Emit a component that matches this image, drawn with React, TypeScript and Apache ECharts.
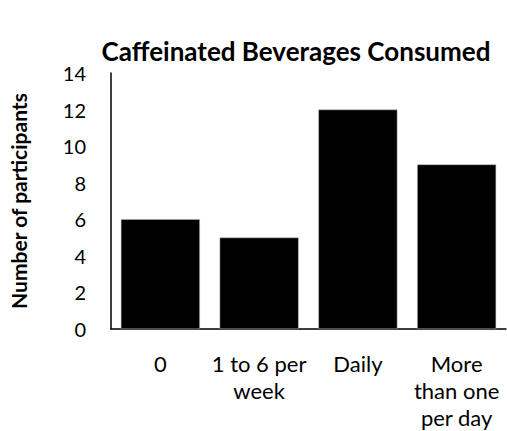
import React, { useEffect, useRef } from "react";
import * as echarts from "echarts";

const categories = ["0", "1 to 6 per week", "Daily", "More than one per day"];
const wrappedLabels = ["0", "1 to 6 per\nweek", "Daily", "More\nthan one\nper day"];
const participants = [6, 5, 12, 9];
const yTicks = [0, 2, 4, 6, 8, 10, 12, 14];

const FONT = "Lato";

export default function App() {
  const ref = useRef<HTMLDivElement>(null);
  useEffect(() => {
    if (!ref.current) return;
    const chart = echarts.init(ref.current, undefined, { renderer: "svg" });
    chart.setOption({
      animation: false,
      backgroundColor: "#ffffff",
      title: {
        text: "Caffeinated Beverages Consumed",
        left: 291,
        textAlign: "center",
        top: 33,
        textStyle: { fontFamily: FONT, fontWeight: "bold", fontSize: 26, color: "#000" },
      },
      grid: { left: 110, right: 1, top: 73, bottom: 102 },
      xAxis: {
        type: "category",
        data: categories,
        axisLine: { lineStyle: { color: "#000", width: 1.5 } },
        axisTick: { show: false },
        axisLabel: {
          interval: 0,
          margin: 21,
          fontFamily: FONT,
          fontSize: 22,
          lineHeight: 27,
          color: "#000",
          formatter: (v: string) => wrappedLabels[categories.indexOf(v)] ?? v,
        },
      },
      yAxis: {
        type: "value",
        min: yTicks[0],
        max: yTicks[yTicks.length - 1],
        interval: 2,
        name: "Number of participants",
        nameLocation: "middle",
        nameGap: 82,
        nameTextStyle: { fontFamily: FONT, fontWeight: "bold", fontSize: 21, color: "#000" },
        splitLine: { show: false },
        axisTick: { show: false },
        axisLine: { show: true, lineStyle: { color: "#000", width: 1.5 } },
        axisLabel: { margin: 25, fontFamily: FONT, fontSize: 20, color: "#000" },
      },
      series: [
        {
          type: "bar",
          data: participants,
          barCategoryGap: "20%",
          itemStyle: { color: "#000", borderColor: "#bbb", borderWidth: 0.5 },
        },
      ],
    });
    return () => chart.dispose();
  }, []);
  return <div ref={ref} style={{ width: 507, height: 431, position: "absolute", left: 0, top: 0 }} />;
}
